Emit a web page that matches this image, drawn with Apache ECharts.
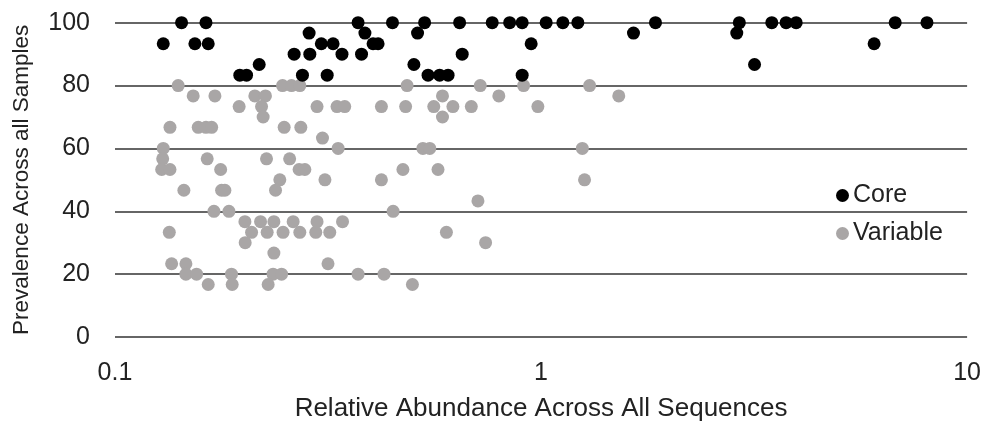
<!DOCTYPE html>
<html>
<head>
<meta charset="utf-8">
<script src="https://cdn.jsdelivr.net/npm/echarts@6/dist/echarts.min.js"></script>
<style>html,body{margin:0;padding:0;background:#fff;}#c{width:984px;height:427px;}</style>
</head>
<body>
<div id="c"></div>
<script>
var xTicks = ['0.1', '1', '10'];
var yTicks = [0, 20, 40, 60, 80, 100];

var coreAbundance = [0.1298, 0.1433, 0.154, 0.1635, 0.1655, 0.1963, 0.2036, 0.218, 0.2633, 0.2754,
  0.2855, 0.2866, 0.305, 0.3148, 0.325, 0.341, 0.372, 0.379, 0.386, 0.4034,
  0.4145, 0.448, 0.503, 0.513, 0.533, 0.543, 0.578, 0.605, 0.644, 0.653,
  0.768, 0.844, 0.903, 0.903, 0.948, 1.028, 1.125, 1.22, 1.648, 1.856,
  2.88, 2.92, 3.17, 3.48, 3.76, 3.97, 6.05, 6.78, 8.05];
var corePrevalence = [93.3, 100, 93.3, 100, 93.3, 83.3, 83.3, 86.7, 90, 83.3,
  96.7, 90, 93.3, 83.3, 93.3, 90, 100, 90, 96.7, 93.3,
  93.3, 100, 86.7, 96.7, 100, 83.3, 83.3, 83.3, 100, 90,
  100, 100, 100, 83.3, 93.3, 100, 100, 100, 96.7, 100,
  96.7, 100, 86.7, 100, 100, 100, 93.3, 100, 100];

var variableAbundance = [
  0.1407, 0.2473, 0.2596, 0.2715, 0.4848, 0.72, 0.91, 1.30,
  0.1526, 0.1716, 0.2129, 0.2255, 0.587, 0.796, 1.522,
  0.1956, 0.2208, 0.298, 0.332, 0.3461, 0.422, 0.481, 0.56, 0.621, 0.686, 0.983,
  0.2227, 0.587,
  0.1346, 0.1568, 0.1635, 0.1686, 0.2495, 0.273,
  0.3069,
  0.1298, 0.334, 0.528, 0.548, 1.25,
  0.1294, 0.1646, 0.2268, 0.257,
  0.1287, 0.1346, 0.177, 0.2705, 0.279, 0.474, 0.573,
  0.2437, 0.311, 0.422, 1.265,
  0.1451, 0.1779, 0.1811, 0.2381,
  0.711,
  0.1707, 0.1851, 0.4496,
  0.2018, 0.2196, 0.236, 0.2619, 0.298, 0.342,
  0.1341, 0.2092, 0.2276, 0.248, 0.2715, 0.296, 0.3192, 0.5996,
  0.2021, 0.741,
  0.236,
  0.1358, 0.1467, 0.3162,
  0.1467, 0.1554, 0.1877, 0.235, 0.246, 0.372, 0.428,
  0.1655, 0.1884, 0.2288, 0.499];
var variablePrevalence = [
  80, 80, 80, 80, 80, 80, 80, 80,
  76.7, 76.7, 76.7, 76.7, 76.7, 76.7, 76.7,
  73.3, 73.3, 73.3, 73.3, 73.3, 73.3, 73.3, 73.3, 73.3, 73.3, 73.3,
  70, 70,
  66.7, 66.7, 66.7, 66.7, 66.7, 66.7,
  63.3,
  60, 60, 60, 60, 60,
  56.7, 56.7, 56.7, 56.7,
  53.3, 53.3, 53.3, 53.3, 53.3, 53.3, 53.3,
  50, 50, 50, 50,
  46.7, 46.7, 46.7, 46.7,
  43.3,
  40, 40, 40,
  36.7, 36.7, 36.7, 36.7, 36.7, 36.7,
  33.3, 33.3, 33.3, 33.3, 33.3, 33.3, 33.3, 33.3,
  30, 30,
  26.7,
  23.3, 23.3, 23.3,
  20, 20, 20, 20, 20, 20, 20,
  16.7, 16.7, 16.7, 16.7];

function zip(a, b) { return a.map(function (v, i) { return [v, b[i]]; }); }

var textColor = '#222';
var font = 'Liberation Sans, Arial, sans-serif';

var chart = echarts.init(document.getElementById('c'), null, { renderer: 'canvas' });
chart.setOption({
  animation: false,
  backgroundColor: '#fff',
  grid: { left: 115, right: 16, top: 22.7, bottom: 82.7, containLabel: false },
  legend: {
    orient: 'vertical',
    left: 831,
    top: 178,
    itemWidth: 13,
    itemHeight: 13,
    itemGap: 13,
    icon: 'circle',
    textStyle: { fontSize: 25, color: textColor, fontFamily: font, padding: [0, 0, 0, -1] },
    data: ['Core', 'Variable']
  },
  xAxis: {
    type: 'log',
    logBase: 10,
    min: 0.1,
    max: 10,
    name: 'Relative Abundance Across All Sequences',
    nameLocation: 'middle',
    nameGap: 59,
    nameTextStyle: { fontSize: 26, color: textColor, fontFamily: font },
    axisLine: { show: false },
    axisTick: { show: false },
    splitLine: { show: false },
    minorTick: { show: false },
    axisLabel: {
      fontSize: 25, color: textColor, fontFamily: font, margin: 24,
      formatter: function (v) {
        var s = String(+v.toPrecision(6));
        return xTicks.indexOf(s) >= 0 ? s : '';
      }
    }
  },
  yAxis: {
    type: 'value',
    min: 0,
    max: 100,
    interval: 20,
    name: 'Prevalence Across all Samples',
    nameLocation: 'middle',
    nameGap: 82,
    nameTextStyle: { fontSize: 22.5, color: textColor, fontFamily: font },
    axisLine: { show: false },
    axisTick: { show: false },
    axisLabel: {
      fontSize: 25, color: textColor, fontFamily: font, margin: 25,
      formatter: function (v) { return yTicks.indexOf(v) >= 0 ? String(v) : ''; }
    },
    splitLine: { show: true, lineStyle: { color: '#666', width: 2 } }
  },
  series: [
    {
      name: 'Core',
      type: 'scatter',
      symbol: 'circle',
      symbolSize: 13,
      itemStyle: { color: '#000', opacity: 1 },
      data: zip(coreAbundance, corePrevalence),
      z: 3
    },
    {
      name: 'Variable',
      type: 'scatter',
      symbol: 'circle',
      symbolSize: 13,
      itemStyle: { color: '#a9a6a6', opacity: 1 },
      data: zip(variableAbundance, variablePrevalence),
      z: 2
    }
  ]
});
</script>
</body>
</html>
